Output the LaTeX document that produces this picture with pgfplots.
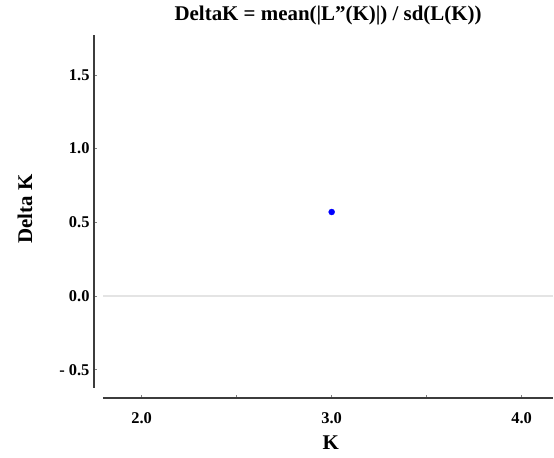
\documentclass[border=0pt]{standalone}
\usepackage{fontspec}
\setmainfont{Liberation Serif}
\usepackage{pgfplots}
\pgfplotsset{compat=1.18}
\definecolor{axisgray}{RGB}{60,60,60}
\definecolor{zerogray}{RGB}{228,228,228}
\begin{document}
\begin{tikzpicture}
\begin{axis}[
  at={(0,0)}, anchor=south west,
  scale only axis, width=459bp, height=363bp,
  xmin=1.749, xmax=4.165, ymin=-0.692, ymax=1.771,
  axis line style={draw=none},
  xtick={2,2.5,3,3.5,4},
  xticklabels={\mbox{2.0},,\mbox{3.0},,\mbox{4.0}},
  ytick={-0.5,0,0.5,1,1.5},
  yticklabels={\mbox{- 0.5},\mbox{0.0},\mbox{0.5},\mbox{1.0},\mbox{1.5}},
  xtick pos=bottom, ytick pos=left,
  tick align=inside,
  major tick length=3.5bp,
  tick style={gray, line width=0.5bp},
  ticklabel style={font=\fontsize{16.5}{18}\selectfont\bfseries},
  xticklabel style={anchor=base, yshift=-25bp},
  yticklabel style={anchor=east, xshift=-1bp},
  title={DeltaK = mean(|L”(K)|) / sd(L(K))},
  title style={font=\fontsize{21}{23}\selectfont\bfseries, at={(axis description cs:0.51,1.023)}, anchor=base},
  xlabel={K}, ylabel={Delta K},
  xlabel style={font=\fontsize{21}{23}\selectfont\bfseries, at={(axis description cs:0.516,-0.143)}, anchor=base},
  ylabel style={font=\fontsize{21}{23}\selectfont\bfseries, at={(axis description cs:-0.135,0.521)}, anchor=base, rotate=0},
  clip=false,
]
\draw[zerogray, line width=1.2bp] (axis cs:1.796,0) -- (axis cs:4.165,0);
\draw[axisgray, line width=1.1bp] (axis cs:1.749,-0.624) -- (axis cs:1.749,1.771);
\draw[axisgray, line width=1.1bp] (axis cs:1.796,-0.692) -- (axis cs:4.165,-0.692);
\addplot[only marks, mark=*, mark size=3bp, color=blue, mark options={fill=blue, draw=blue}] coordinates {(3,0.57)};
\end{axis}
\path[use as bounding box] (-94bp,-60bp) rectangle (460bp,398bp);
\end{tikzpicture}
\end{document}
